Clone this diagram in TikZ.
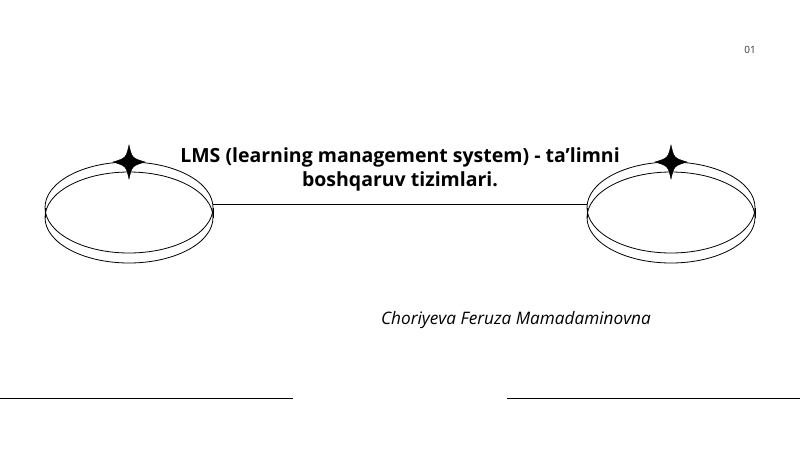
\documentclass[tikz,border=0pt]{standalone}
\usepackage{fontspec}
\setmainfont{Open Sans}
\usetikzlibrary{positioning}

\tikzset{
  ring/.style={black, line width=0.8pt},
  sparkle/.style={black}
}

\begin{document}
\begin{tikzpicture}[x=1pt,y=-1pt]
        \useasboundingbox (0,0) rectangle (800,450);

        % left ring
        \draw[ring] (129,207.5) ellipse (84 and 45.5);
        \draw[ring] (129,217.5) ellipse (84 and 45.5);
        \draw[ring] (45,207.5) -- (45,217.5);
        \draw[ring] (213,207.5) -- (213,217.5);
        \coordinate (leftend) at (213,204);

        % right ring
        \draw[ring] (671,207.5) ellipse (84 and 45.5);
        \draw[ring] (671,217.5) ellipse (84 and 45.5);
        \draw[ring] (587,207.5) -- (587,217.5);
        \draw[ring] (755,207.5) -- (755,217.5);
        \coordinate (rightend) at (587,204);

        \draw[ring] (leftend) -- (rightend);

        % stars
        \filldraw[sparkle] (129,145) .. controls (132,158) .. (145,162)
            .. controls (132,166) .. (129,179) .. controls (126,166) .. (113,162)
            .. controls (126,158) .. (129,145) -- cycle;
        \filldraw[sparkle] (671,145) .. controls (674,158) .. (687,162)
            .. controls (674,166) .. (671,179) .. controls (668,166) .. (655,162)
            .. controls (668,158) .. (671,145) -- cycle;

        % texts
        \node[font=\bfseries\fontsize{19.5}{23.5}\selectfont, align=center] (title) at (400,169.5)
            {LMS (learning management system) - ta’limni\\boshqaruv tizimlari.};
        \node[font=\itshape\fontsize{17.2}{20}\selectfont] (author) at (516,320)
            {Choriyeva Feruza Mamadaminovna};
        \node[font=\fontsize{10}{12}\selectfont, text=black!80] (pagenum) at (750,50) {01};

        % bottom rules
        \coordinate (bl) at (0,398);
        \coordinate (bm) at (293,398);
        \coordinate (br) at (507,398);
        \coordinate (be) at (800,398);
        \draw[ring] (bl) -- (bm);
        \draw[ring] (br) -- (be);
\end{tikzpicture}
\end{document}
